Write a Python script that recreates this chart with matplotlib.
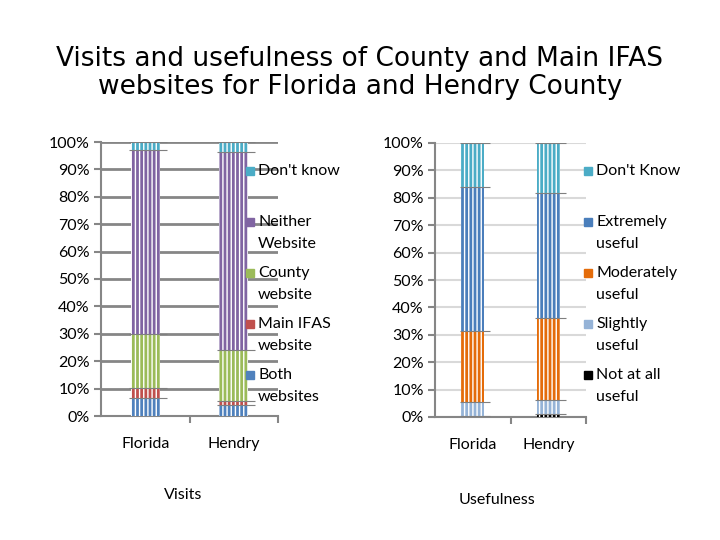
import matplotlib.pyplot as plt
from matplotlib.patches import Rectangle
import numpy as np

plt.rcParams['font.family'] = ['Lato', 'DejaVu Sans']
plt.rcParams['hatch.linewidth'] = 1.0

# Data (percent of respondents)
groups = ['Florida', 'Hendry']

visit_labels = ['Both\nwebsites', 'Main IFAS\nwebsite', 'County\nwebsite', 'Neither\nWebsite', "Don't know"]
visit_colors = ['#4F81BD', '#C0504D', '#9BBB59', '#8064A2', '#4BACC6']
visits_florida = [6.7, 3.4, 20.0, 67.0, 2.9]
visits_hendry = [4.0, 1.5, 18.5, 72.5, 3.5]

use_labels = ['Not at all\nuseful', 'Slightly\nuseful', 'Moderately\nuseful', 'Extremely\nuseful', "Don't Know"]
use_colors = ['#000000', '#95B3D7', '#E46C0A', '#4A7EBB', '#4BACC6']
use_florida = [0.5, 5.0, 26.0, 52.5, 16.0]
use_hendry = [1.2, 4.9, 30.0, 45.5, 18.4]

W, H = 720, 540
fig = plt.figure(figsize=(7.2, 5.4), dpi=100)
fig.text(0.5, 1 - 73 / H, "Visits and usefulness of County and Main IFAS\nwebsites for Florida and Hendry County",
         ha='center', va='center', fontsize=19, family='DejaVu Sans', linespacing=1.12)


def stacked(ax, series, colors, width, gridcolor, spinecolor, gridlw):
    x = np.arange(len(groups))
    data = np.array(series).T  # segments x groups
    bottom = np.zeros(len(groups))
    for vals, c in zip(data, colors):
        ax.bar(x, vals, width, bottom=bottom, color=c, edgecolor='white',
               hatch='||||', linewidth=0, zorder=3)
        bottom = bottom + vals
        ax.hlines(bottom, x - width / 2 - 0.02, x + width / 2 + 0.08,
                  color='#7f7f7f', lw=0.8, zorder=4)
    ax.set_xlim(-0.5, len(groups) - 0.5)
    ax.set_ylim(0, 100)
    ax.set_yticks(np.arange(0, 101, 10))
    ax.set_yticklabels([f'{v}%' for v in range(0, 101, 10)])
    ax.yaxis.grid(True, color=gridcolor, lw=gridlw, zorder=0)
    ax.set_axisbelow(True)
    ax.set_xticks(x)
    ax.set_xticklabels(groups)
    ax.set_xticks([0.5, 1.5], minor=True)
    ax.tick_params(axis='x', which='major', length=0, pad=15, labelsize=11.5)
    ax.tick_params(axis='x', which='minor', length=5, color=spinecolor, width=1.5)
    ax.tick_params(axis='y', length=5, color=spinecolor, width=1.5, labelsize=11.5, pad=3)
    for s in ['top', 'right']:
        ax.spines[s].set_visible(False)
    for s in ['left', 'bottom']:
        ax.spines[s].set_color(spinecolor)
        ax.spines[s].set_linewidth(1.5)


def side_legend(labels, colors, xm, ytop, dy):
    # marker square, then label lines; marker sits on the first line
    for i, (lab, c) in enumerate(zip(labels[::-1], colors[::-1])):
        yc = ytop + i * dy
        fig.patches.append(Rectangle((xm / W, 1 - (yc + 4) / H), 8 / W, 8 / H,
                                     transform=fig.transFigure, color=c, figure=fig))
        for k, line in enumerate(lab.split('\n')):
            fig.text((xm + 12) / W, 1 - (yc + k * 22) / H, line, fontsize=11.5,
                     ha='left', va='center')


ax1 = fig.add_axes([101 / W, 124 / H, 177 / W, 274 / H])
stacked(ax1, [visits_florida, visits_hendry], visit_colors, 0.33, '#868686', '#868686', 2.0)
fig.text(183 / W, 1 - 495 / H, 'Visits', ha='center', va='center', fontsize=11.5)
side_legend(visit_labels, visit_colors, 246, 171, 51)

ax2 = fig.add_axes([435 / W, 123 / H, 151 / W, 274 / H])
stacked(ax2, [use_florida, use_hendry], use_colors, 0.3, '#d9d9d9', '#868686', 1.5)
fig.text(497 / W, 1 - 500 / H, 'Usefulness', ha='center', va='center', fontsize=11.5)
side_legend(use_labels, use_colors, 584, 171, 51)

fig.savefig('out.png', dpi=100)
